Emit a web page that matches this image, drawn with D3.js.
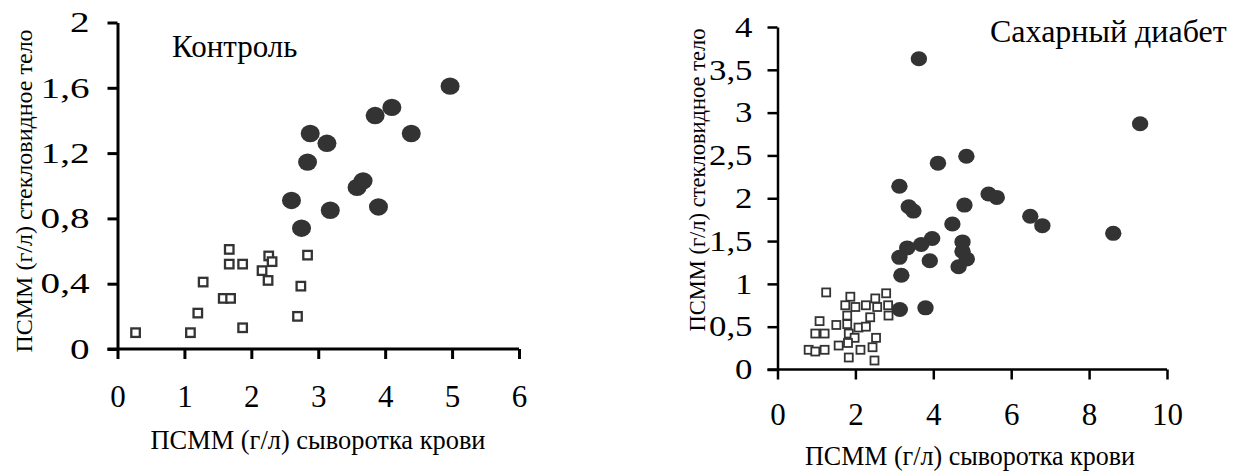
<!DOCTYPE html>
<html>
<head>
<meta charset="utf-8">
<script src="https://cdn.jsdelivr.net/npm/d3@7"></script>
<style>
  body { margin: 0; background: #fff; }
  svg text { font-family: "Liberation Serif", "Times New Roman", serif; fill: #000; }
</style>
</head>
<body>
<svg id="chart" width="1236" height="471"></svg>
<script>
// Контроль: filled = one group, open squares = other group
const controlFilled = [
  [2.60, 0.91], [2.75, 0.74], [2.84, 1.145], [2.88, 1.32], [3.13, 1.26], [3.18, 0.85],
  [3.58, 0.99], [3.67, 1.03], [3.90, 0.87], [3.85, 1.43], [4.10, 1.48], [4.39, 1.32],
  [4.97, 1.61]
];
const controlOpen = [
  [0.27, 0.10], [1.09, 0.10], [1.20, 0.22], [1.28, 0.41], [1.58, 0.31], [1.69, 0.31],
  [1.67, 0.61], [1.67, 0.52], [1.87, 0.52], [1.87, 0.13], [2.16, 0.48], [2.26, 0.57],
  [2.31, 0.535], [2.25, 0.42], [2.84, 0.575], [2.74, 0.385], [2.69, 0.20]
];
// Сахарный диабет
const diabetesFilled = [
  [3.63, 3.63], [9.31, 2.87], [4.85, 2.49], [4.12, 2.41], [3.13, 2.14], [3.37, 1.90],
  [3.49, 1.85], [5.42, 2.05], [5.63, 2.01], [4.80, 1.92], [4.49, 1.70], [6.49, 1.79],
  [6.80, 1.68], [8.62, 1.59], [3.97, 1.53], [3.69, 1.46], [3.33, 1.42], [3.13, 1.31],
  [3.91, 1.27], [4.75, 1.49], [4.75, 1.38], [4.86, 1.29], [4.65, 1.20], [3.18, 1.10],
  [3.14, 0.70], [3.80, 0.72]
];
const diabetesOpen = [
  [1.25, 0.90], [1.87, 0.85], [2.51, 0.83], [2.79, 0.89], [2.00, 0.73], [2.27, 0.75],
  [2.56, 0.73], [2.84, 0.75], [2.85, 0.63], [1.79, 0.63], [2.38, 0.61], [1.08, 0.565],
  [1.51, 0.52], [1.79, 0.53], [2.08, 0.49], [2.27, 0.50], [0.97, 0.42], [1.21, 0.42],
  [1.83, 0.42], [1.98, 0.37], [2.53, 0.37], [1.57, 0.28], [1.81, 0.31], [2.13, 0.23],
  [2.44, 0.26], [0.80, 0.23], [0.97, 0.21], [1.21, 0.23], [1.83, 0.14], [2.49, 0.105],
  [1.74, 0.75]
];

const leftXTicks = [0, 1, 2, 3, 4, 5, 6];
const leftYTicks = [0, 0.4, 0.8, 1.2, 1.6, 2];
const rightXTicks = [0, 2, 4, 6, 8, 10];
const rightYTicks = [0, 0.5, 1, 1.5, 2, 2.5, 3, 3.5, 4];

const xTitle = "ПСММ (г/л) сыворотка крови";
const yTitle = "ПСММ (г/л) стекловидное тело";

const svg = d3.select("#chart");
const comma = d => String(d).replace(".", ",");
const serif = '"Liberation Serif", "Times New Roman", serif';

function panel(cfg) {
  const x = d3.scaleLinear().domain(cfg.xDomain).range(cfg.xRange);
  const y = d3.scaleLinear().domain(cfg.yDomain).range(cfg.yRange);
  const g = svg.append("g");

  const xa = g.append("g")
    .attr("transform", "translate(0," + cfg.yRange[0] + ")")
    .call(d3.axisBottom(x).tickValues(cfg.xTicks).tickFormat(comma)
      .tickSizeInner(cfg.tick).tickSizeOuter(0).tickPadding(cfg.xPad));
  xa.select(".domain").attr("d", "M" + (cfg.xRange[0] - cfg.tick) + ",0H" + cfg.xRange[1]);

  const ya = g.append("g")
    .attr("transform", "translate(" + cfg.xRange[0] + ",0)")
    .call(d3.axisLeft(y).tickValues(cfg.yTicks).tickFormat(comma)
      .tickSizeInner(cfg.tick).tickSizeOuter(0).tickPadding(cfg.yPad));

  [xa, ya].forEach(a => {
    a.attr("font-family", serif);
    a.selectAll("path, line").attr("stroke", "#000").attr("stroke-width", cfg.sw);
  });
  xa.selectAll("text").style("font-size", cfg.xTickFont + "px");
  // y labels are drawn wider than the font's normal width
  ya.selectAll("text")
    .style("font-size", cfg.yTickFont + "px")
    .attr("x", 0)
    .attr("transform", "translate(" + (-(cfg.tick + cfg.yPad)) + ",0) scale(" + cfg.yStretch + ",1)");

  g.append("g").selectAll("rect")
    .data(cfg.open)
    .enter().append("rect")
    .attr("x", d => x(d[0]) - cfg.sq / 2)
    .attr("y", d => y(d[1]) - cfg.sq / 2)
    .attr("width", cfg.sq)
    .attr("height", cfg.sq)
    .attr("fill", "#fff")
    .attr("stroke", "#333")
    .attr("stroke-width", cfg.sqw);

  g.append("g").selectAll("ellipse")
    .data(cfg.filled)
    .enter().append("ellipse")
    .attr("cx", d => x(d[0]))
    .attr("cy", d => y(d[1]))
    .attr("rx", cfg.rx)
    .attr("ry", cfg.ry)
    .attr("fill", "#333");

  g.append("text")
    .attr("x", cfg.titleX).attr("y", cfg.titleY)
    .style("font-size", cfg.titleFont + "px")
    .text(cfg.title);

  g.append("text")
    .attr("x", cfg.xTitleX).attr("y", cfg.xTitleY)
    .attr("text-anchor", "middle")
    .attr("textLength", cfg.xTitleLen)
    .attr("lengthAdjust", "spacingAndGlyphs")
    .style("font-size", cfg.xTitleFont + "px")
    .text(xTitle);

  g.append("text")
    .attr("transform", "translate(" + cfg.yTitleX + "," + cfg.yTitleY + ") rotate(-90)")
    .attr("text-anchor", "middle")
    .style("font-size", cfg.yTitleFont + "px")
    .text(yTitle);
}

panel({
  xDomain: [0, 6], xRange: [117.5, 519], yDomain: [0, 2], yRange: [349, 22.5],
  xTicks: leftXTicks, yTicks: leftYTicks, tick: 10, xPad: 26, yPad: 18, sw: 3,
  xTickFont: 31, yTickFont: 29, yStretch: 1.35,
  open: controlOpen, filled: controlFilled, sq: 8.5, sqw: 2.3, rx: 9.5, ry: 8.7,
  title: "Контроль", titleX: 172, titleY: 57, titleFont: 31,
  xTitleX: 318, xTitleY: 449, xTitleLen: 335, xTitleFont: 28,
  yTitleX: 32, yTitleY: 191, yTitleFont: 24
});

panel({
  xDomain: [0, 10], xRange: [777.5, 1167], yDomain: [0, 4], yRange: [369.5, 27],
  xTicks: rightXTicks, yTicks: rightYTicks, tick: 10, xPad: 23, yPad: 15, sw: 2.5,
  xTickFont: 31, yTickFont: 29, yStretch: 1.2,
  open: diabetesOpen, filled: diabetesFilled, sq: 8, sqw: 1.8, rx: 8.2, ry: 7.5,
  title: "Сахарный диабет", titleX: 990, titleY: 42, titleFont: 32,
  xTitleX: 970, xTitleY: 465, xTitleLen: 330, xTitleFont: 28,
  yTitleX: 705, yTitleY: 180, yTitleFont: 22.5
});
</script>
</body>
</html>
